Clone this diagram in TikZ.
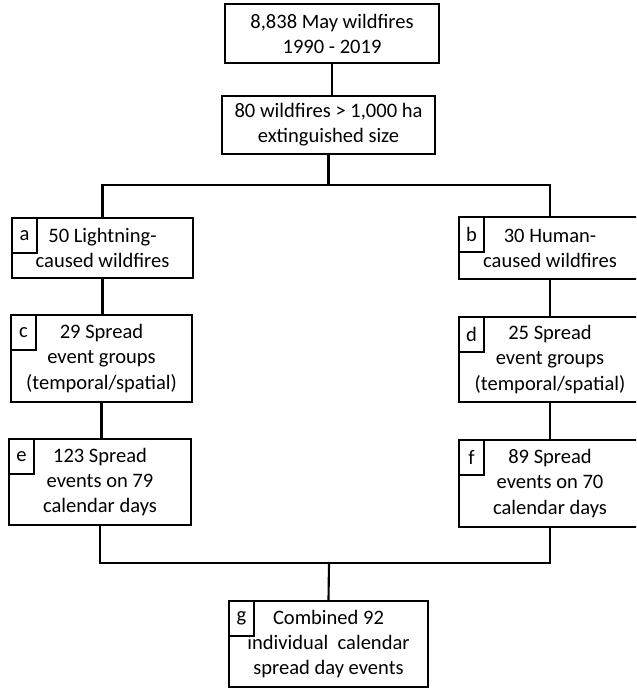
\documentclass[tikz,border=0pt]{standalone}
\usepackage{fontspec}
\setmainfont{Carlito}
\begin{document}
\begin{tikzpicture}[x=0.75pt,y=-0.75pt,
  box/.style={draw=black,line width=1.6pt,fill=white,inner sep=0pt,align=center,
    font=\fontsize{15.4}{18.8}\selectfont},
  tag/.style={draw=black,line width=1.6pt,inner sep=0pt,anchor=north west,
    minimum width=18.75pt,minimum height=26pt,font=\fontsize{15.4}{18.8}\selectfont},
  link/.style={line width=1.6pt,line cap=rect}]
\useasboundingbox (0,0) rectangle (636,689);
\clip (0,0) rectangle (636,689);
\node[box,minimum width=160.5pt,minimum height=44.25pt] (n1) at (332,33.5) {8,838 May wildfires\\1990 - 2019};
\node[box,minimum width=159.75pt,minimum height=43.5pt] (n2) at (328.5,125) {80 wildfires > 1,000 ha\\extinguished size};
\node[box,minimum width=135.75pt,minimum height=45pt] (na) at (102.5,248) {50 Lightning-\\caused wildfires};
\node[box,minimum width=136.5pt,minimum height=46.5pt] (nb) at (550,248) {30 Human-\\caused wildfires};
\node[box,minimum width=135.75pt,minimum height=65.25pt] (nc) at (101.5,358.5) {29 Spread\\event groups\\(temporal/spatial)};
\node[box,minimum width=136.5pt,minimum height=63.75pt] (nd) at (550,359.5) {25 Spread\\event groups\\(temporal/spatial)};
\node[box,minimum width=136.5pt,minimum height=64.5pt] (ne) at (100,482) {123 Spread\\events on 79\\calendar days};
\node[box,minimum width=136.5pt,minimum height=65.25pt] (nf) at (550,483.5) {89 Spread\\events on 70\\calendar days};
\node[box,minimum width=149.25pt,minimum height=64.5pt] (ng) at (328.5,644) {Combined 92\\individual\ \ calendar\\spread day events};
\node[tag] (ta) at (na.north west) {a};
\node[tag] (tb) at (nb.north west) {b};
\node[tag] (tc) at (nc.north west) {c};
\node[tag] (td) at (nd.north west) {d};
\node[tag] (te) at (ne.north west) {e};
\node[tag] (tf) at (nf.north west) {f};
\node[tag] (tg) at (ng.north west) {g};
\coordinate (j1) at (331,185);
\coordinate (j2) at (329,563);
\draw[link] (n1.south) -- (n1.south |- n2.north);
\draw[link] (n2.south) -- (n2.south |- j1);
\draw[link] (na.north) |- (j1) -| (nb.north);
\draw[link] (na.south) -- (na.south |- nc.north);
\draw[link] (nb.south) -- (nb.south |- nd.north);
\draw[link] (nc.south) -- (nc.south |- ne.north);
\draw[link] (nd.south) -- (nd.south |- nf.north);
\draw[link] (ne.south) |- (j2) -| (nf.south);
\draw[link] (j2) -- (ng.north);
\end{tikzpicture}
\end{document}
